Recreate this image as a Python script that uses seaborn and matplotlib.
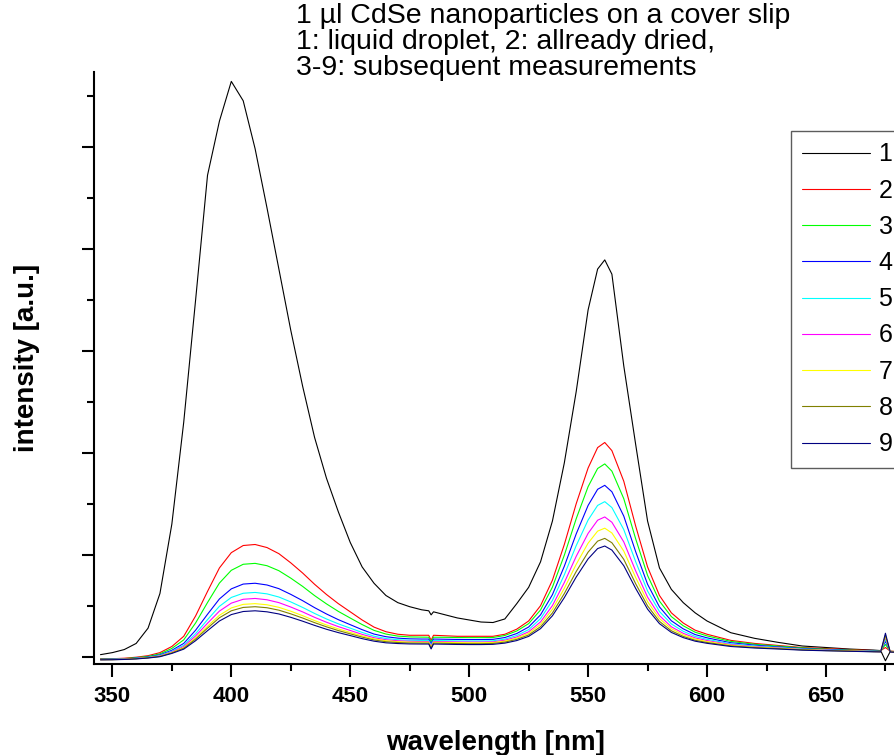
import numpy as np
import pandas as pd
import seaborn as sns
import matplotlib
matplotlib.use("Agg")
import matplotlib.pyplot as plt
from matplotlib.ticker import MultipleLocator, NullFormatter

# wavelength grid [nm]
wavelength = [345, 350, 355, 360, 365, 370, 375, 380, 385, 390, 395, 400, 405, 410,
              415, 420, 425, 430, 435, 440, 445, 450, 455, 460, 465, 470, 475, 480,
              483, 484, 485, 490, 495, 500, 505, 510, 515, 520, 525, 530, 535, 540,
              545, 550, 554, 557, 560, 565, 570, 575, 580, 585, 590, 595, 600, 610,
              620, 630, 640, 650, 660, 670, 673, 675, 677, 680]

# 1: liquid droplet
spec1 = [0.02, 0.04, 0.07, 0.13, 0.28, 0.62, 1.30, 2.30, 3.50, 4.72, 5.25, 5.64, 5.45, 4.98,
         4.40, 3.80, 3.20, 2.65, 2.15, 1.75, 1.42, 1.12, 0.88, 0.72, 0.60, 0.53, 0.49, 0.46,
         0.45, 0.41, 0.44, 0.41, 0.38, 0.36, 0.34, 0.335, 0.37, 0.52, 0.68, 0.93, 1.33, 1.90,
         2.60, 3.40, 3.80, 3.89, 3.75, 2.85, 2.08, 1.33, 0.87, 0.66, 0.53, 0.43, 0.35, 0.235,
         0.18, 0.14, 0.105, 0.09, 0.075, 0.065, 0.06, -0.04, 0.05, 0.05]
# 2: already dried
spec2 = [-0.02, -0.02, -0.015, -0.005, 0.01, 0.04, 0.10, 0.20, 0.40, 0.64, 0.87, 1.02, 1.09, 1.10,
         1.07, 1.01, 0.92, 0.82, 0.71, 0.61, 0.52, 0.44, 0.36, 0.29, 0.245, 0.22, 0.21, 0.21,
         0.21, 0.16, 0.21, 0.205, 0.20, 0.20, 0.20, 0.20, 0.22, 0.27, 0.35, 0.50, 0.75, 1.10,
         1.50, 1.85, 2.05, 2.10, 2.02, 1.72, 1.28, 0.88, 0.60, 0.43, 0.33, 0.26, 0.22, 0.16,
         0.13, 0.11, 0.09, 0.08, 0.07, 0.06, 0.06, 0.09, 0.055, 0.05]
# 3-9: subsequent measurements
spec3 = [-0.024, -0.023, -0.019, -0.010, 0.003, 0.028, 0.081, 0.165, 0.331, 0.531, 0.722, 0.847, 0.906, 0.915,
         0.892, 0.843, 0.770, 0.689, 0.599, 0.518, 0.444, 0.379, 0.315, 0.258, 0.222, 0.202, 0.194, 0.192,
         0.191, 0.145, 0.191, 0.190, 0.188, 0.187, 0.187, 0.188, 0.208, 0.252, 0.324, 0.458, 0.682, 0.995,
         1.353, 1.667, 1.845, 1.890, 1.819, 1.549, 1.155, 0.797, 0.545, 0.393, 0.303, 0.240, 0.204, 0.150,
         0.122, 0.104, 0.086, 0.074, 0.065, 0.057, 0.055, 0.12, 0.053, 0.048]
spec4 = [-0.026, -0.025, -0.022, -0.014, -0.003, 0.018, 0.063, 0.130, 0.260, 0.416, 0.566, 0.665, 0.712, 0.720,
         0.703, 0.667, 0.611, 0.549, 0.481, 0.419, 0.363, 0.314, 0.265, 0.222, 0.196, 0.182, 0.175, 0.173,
         0.173, 0.125, 0.173, 0.171, 0.169, 0.168, 0.168, 0.170, 0.188, 0.227, 0.291, 0.410, 0.608, 0.887,
         1.204, 1.483, 1.641, 1.680, 1.617, 1.378, 1.029, 0.710, 0.488, 0.352, 0.273, 0.217, 0.185, 0.137,
         0.113, 0.096, 0.080, 0.070, 0.062, 0.055, 0.053, 0.15, 0.052, 0.047]
spec5 = [-0.027, -0.026, -0.023, -0.016, -0.006, 0.012, 0.054, 0.112, 0.226, 0.363, 0.494, 0.581, 0.622, 0.630,
         0.616, 0.585, 0.537, 0.483, 0.424, 0.370, 0.322, 0.280, 0.238, 0.201, 0.178, 0.166, 0.161, 0.159,
         0.159, 0.110, 0.159, 0.157, 0.155, 0.154, 0.154, 0.156, 0.172, 0.208, 0.265, 0.373, 0.552, 0.803,
         1.089, 1.340, 1.483, 1.520, 1.462, 1.246, 0.931, 0.644, 0.443, 0.321, 0.249, 0.199, 0.170, 0.127,
         0.105, 0.090, 0.076, 0.066, 0.060, 0.053, 0.051, 0.17, 0.050, 0.046]
spec6 = [-0.028, -0.027, -0.024, -0.018, -0.008, 0.008, 0.047, 0.100, 0.204, 0.328, 0.447, 0.525, 0.563, 0.571,
         0.558, 0.530, 0.487, 0.439, 0.386, 0.338, 0.295, 0.257, 0.219, 0.186, 0.166, 0.156, 0.151, 0.149,
         0.149, 0.100, 0.149, 0.147, 0.145, 0.144, 0.144, 0.146, 0.161, 0.193, 0.244, 0.341, 0.501, 0.727,
         0.984, 1.209, 1.338, 1.370, 1.318, 1.125, 0.841, 0.584, 0.403, 0.293, 0.229, 0.184, 0.158, 0.119,
         0.099, 0.086, 0.072, 0.064, 0.058, 0.051, 0.050, 0.19, 0.049, 0.045]
spec7 = [-0.029, -0.028, -0.025, -0.019, -0.010, 0.005, 0.041, 0.090, 0.185, 0.298, 0.406, 0.478, 0.513, 0.520,
         0.509, 0.484, 0.446, 0.402, 0.354, 0.311, 0.272, 0.238, 0.204, 0.175, 0.157, 0.148, 0.143, 0.142,
         0.142, 0.093, 0.142, 0.140, 0.138, 0.137, 0.137, 0.139, 0.153, 0.182, 0.229, 0.317, 0.465, 0.671,
         0.906, 1.113, 1.231, 1.260, 1.213, 1.035, 0.776, 0.540, 0.374, 0.274, 0.214, 0.173, 0.149, 0.113,
         0.095, 0.083, 0.070, 0.062, 0.057, 0.051, 0.050, 0.20, 0.049, 0.045]
spec8 = [-0.030, -0.029, -0.026, -0.020, -0.011, 0.003, 0.037, 0.083, 0.173, 0.280, 0.382, 0.450, 0.483, 0.490,
         0.480, 0.456, 0.420, 0.379, 0.334, 0.293, 0.256, 0.224, 0.192, 0.164, 0.147, 0.139, 0.134, 0.133,
         0.133, 0.085, 0.133, 0.131, 0.129, 0.128, 0.128, 0.130, 0.143, 0.170, 0.213, 0.294, 0.429, 0.619,
         0.835, 1.025, 1.133, 1.160, 1.117, 0.954, 0.715, 0.498, 0.346, 0.254, 0.199, 0.161, 0.139, 0.106,
         0.090, 0.079, 0.067, 0.060, 0.055, 0.049, 0.048, 0.21, 0.047, 0.044]
spec9 = [-0.031, -0.030, -0.027, -0.022, -0.013, 0.000, 0.032, 0.074, 0.157, 0.255, 0.350, 0.413, 0.443, 0.450,
         0.440, 0.419, 0.386, 0.348, 0.307, 0.269, 0.236, 0.207, 0.177, 0.152, 0.136, 0.129, 0.125, 0.124,
         0.124, 0.076, 0.124, 0.122, 0.120, 0.119, 0.119, 0.121, 0.133, 0.158, 0.199, 0.275, 0.401, 0.579,
         0.781, 0.959, 1.060, 1.085, 1.045, 0.892, 0.669, 0.466, 0.324, 0.238, 0.187, 0.152, 0.131, 0.100,
         0.085, 0.075, 0.064, 0.058, 0.053, 0.048, 0.047, 0.23, 0.046, 0.043]

labels = ["1", "2", "3", "4", "5", "6", "7", "8", "9"]
colors = ["#000000", "#ff0000", "#00ff00", "#0000ff", "#00ffff",
          "#ff00ff", "#ffff00", "#808000", "#000080"]
spectra = [spec1, spec2, spec3, spec4, spec5, spec6, spec7, spec8, spec9]

frames = []
for lab, s in zip(labels, spectra):
    frames.append(pd.DataFrame({"wavelength": wavelength, "intensity": s, "curve": lab}))
df = pd.concat(frames, ignore_index=True)

sns.set_style("white")
plt.rcParams["font.family"] = ["Liberation Sans", "DejaVu Sans"]
plt.rcParams["text.color"] = "black"
plt.rcParams["xtick.color"] = "black"
plt.rcParams["ytick.color"] = "black"

W, H = 894, 755
fig = plt.figure(figsize=(W / 100, H / 100), dpi=100)
ax = fig.add_axes([94.3 / W, 1 - 664 / H, 1 - 94.3 / W, (664 - 71.7) / H])

sns.lineplot(data=df, x="wavelength", y="intensity", hue="curve", palette=colors,
             estimator=None, sort=False, linewidth=0.8, ax=ax)

ax.set_xlim(342.4, 678.6)
ax.set_ylim(-0.0716, 5.735)
ax.xaxis.set_major_locator(MultipleLocator(50))
ax.xaxis.set_minor_locator(MultipleLocator(25))
ax.yaxis.set_major_locator(MultipleLocator(1))
ax.yaxis.set_minor_locator(MultipleLocator(0.5))
ax.yaxis.set_major_formatter(NullFormatter())
ax.set_xlabel("")
ax.set_ylabel("")
ax.tick_params(which="both", bottom=True, left=True, top=False, right=False,
               direction="out", width=1.5, colors="black")
ax.tick_params(which="major", length=9, labelsize=16, pad=7)
ax.tick_params(which="minor", length=5)
for t in ax.get_xticklabels():
    t.set_fontweight("bold")
ax.spines["top"].set_visible(False)
ax.spines["right"].set_visible(False)
for sp in ("left", "bottom"):
    ax.spines[sp].set_linewidth(1.5)
    ax.spines[sp].set_color("black")

handles, labs = ax.get_legend_handles_labels()
ax.get_legend().remove()
leg = ax.legend(handles, labs, loc="upper left", bbox_to_anchor=(791 / W, 1 - 131 / H),
                bbox_transform=fig.transFigure, frameon=True, fancybox=False,
                fontsize=18, handlelength=2.7, handletextpad=0.35, labelspacing=0.49,
                borderpad=0.45, borderaxespad=0)
leg.get_frame().set_edgecolor("#333333")
leg.get_frame().set_linewidth(1.0)
for ln in leg.get_lines():
    ln.set_linewidth(0.8)

fig.text(296 / W, 1 - 23 / H, "1 µl CdSe nanoparticles on a cover slip",
         fontsize=20.5, va="baseline", ha="left")
fig.text(296 / W, 1 - 49 / H, "1: liquid droplet, 2: allready dried,",
         fontsize=20.5, va="baseline", ha="left")
fig.text(296 / W, 1 - 75 / H, "3-9: subsequent measurements",
         fontsize=20.5, va="baseline", ha="left")

fig.text(496 / W, 1 - 750 / H, "wavelength [nm]", fontsize=20, fontweight="bold",
         ha="center", va="baseline")
fig.text(27 / W, 1 - 358 / H, "intensity [a.u.]", fontsize=20, fontweight="bold",
         ha="center", va="center", rotation=90)

fig.savefig("out.png", dpi=100)
